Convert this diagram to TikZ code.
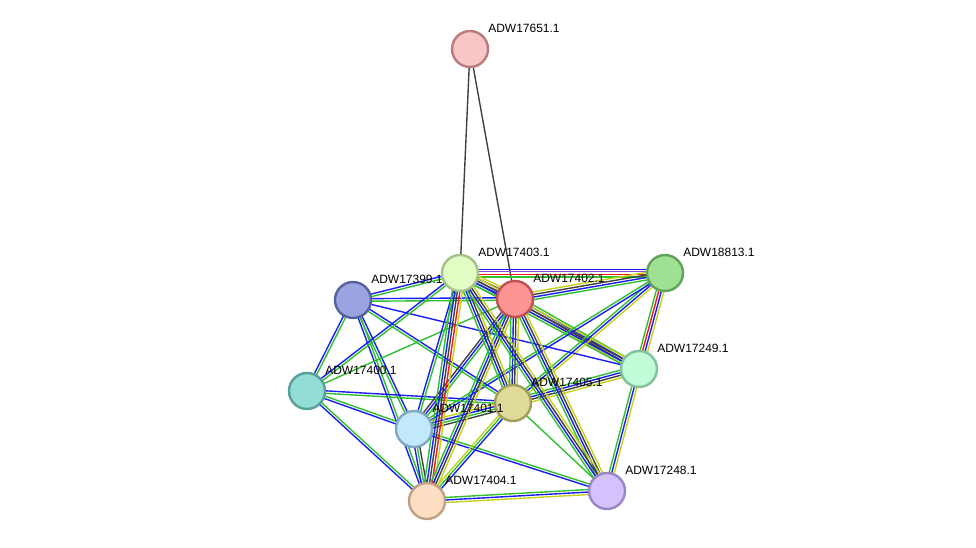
\documentclass[tikz,border=0pt]{standalone}
\usepackage{fontspec}
\setmainfont{Liberation Sans}
\usepackage{tikz}
\usetikzlibrary{calc,backgrounds}

\definecolor{sgreen}{HTML}{2EC02E}
\definecolor{sblue}{HTML}{1C1CF5}
\definecolor{sred}{HTML}{F01818}
\definecolor{sblack}{HTML}{404040}
\definecolor{syellow}{HTML}{C4D21C}
\definecolor{sviolet}{HTML}{8A4CD0}

\begin{document}
\begin{tikzpicture}[
    x=0.75pt, y=-0.75pt,
    prot/.style={draw, circle, minimum size=27pt, inner sep=0pt, line width=1.8pt},
    lbl/.style={anchor=west, inner sep=0pt, font=\fontsize{9}{10}\selectfont},
    link/.style={line width=1.05pt}
]
\useasboundingbox (0,0) rectangle (976,547);

% proteins
\node[prot, fill={rgb,255:red,248;green,198;blue,198}, draw={rgb,255:red,184;green,124;blue,124}] (p651) at (470,49) {};
\node[prot, fill={rgb,255:red,226;green,252;blue,196}, draw={rgb,255:red,164;green,194;blue,138}] (p403) at (460,273) {};
\node[prot, fill={rgb,255:red,252;green,148;blue,148}, draw={rgb,255:red,190;green,82;blue,82}] (p402) at (515,299) {};
\node[prot, fill={rgb,255:red,160;green,224;blue,146}, draw={rgb,255:red,98;green,162;blue,90}] (p813) at (665,273) {};
\node[prot, fill={rgb,255:red,154;green,164;blue,224}, draw={rgb,255:red,86;green,98;blue,160}] (p399) at (353,300) {};
\node[prot, fill={rgb,255:red,192;green,252;blue,216}, draw={rgb,255:red,128;green,194;blue,156}] (p249) at (639,369) {};
\node[prot, fill={rgb,255:red,146;green,222;blue,214}, draw={rgb,255:red,86;green,160;blue,152}] (p400) at (307,391) {};
\node[prot, fill={rgb,255:red,222;green,218;blue,152}, draw={rgb,255:red,160;green,158;blue,92}] (p405) at (513,403) {};
\node[prot, fill={rgb,255:red,194;green,232;blue,252}, draw={rgb,255:red,128;green,168;blue,192}] (p401) at (414,429) {};
\node[prot, fill={rgb,255:red,212;green,194;blue,252}, draw={rgb,255:red,154;green,134;blue,194}] (p248) at (607,491) {};
\node[prot, fill={rgb,255:red,253;green,222;blue,194}, draw={rgb,255:red,192;green,160;blue,132}] (p404) at (427,501) {};

% labels
\foreach \p/\t in {p651/ADW17651.1, p403/ADW17403.1, p402/ADW17402.1, p813/ADW18813.1,
    p399/ADW17399.1, p249/ADW17249.1, p400/ADW17400.1, p405/ADW17405.1,
    p401/ADW17401.1, p248/ADW17248.1, p404/ADW17404.1}
    \node[lbl] (l-\p) at ($(\p)+(18,-21)$) {\t};

% interactions, one line per evidence channel
\begin{scope}[on background layer]
\foreach \a/\b/\cols in {
    p651/p403/{sblack}, p651/p402/{sblack},
    p403/p813/{sgreen,sred,sviolet,sblue},
    p402/p813/{sgreen,sblue,sblack,syellow},
    p403/p402/{sgreen,sblue,sviolet,sblack,syellow},
    p399/p403/{sgreen,sblue}, p399/p402/{sgreen,sblue},
    p402/p249/{syellow,sblack,sblue,sgreen},
    p403/p249/{sgreen,sblue,sblack,syellow},
    p813/p249/{sgreen,sred,sblue,syellow},
    p813/p405/{sgreen,sblue,syellow}, p813/p401/{sgreen,sblue},
    p399/p400/{sblue,sgreen}, p399/p401/{sgreen,sblue},
    p399/p404/{sblue,sgreen}, p399/p405/{sgreen,sblue},
    p399/p249/{sblue},
    p400/p403/{sgreen,sblue}, p400/p402/{sgreen},
    p400/p405/{sgreen,sblue}, p400/p401/{sblue,sgreen},
    p400/p404/{sblue,sgreen},
    p401/p403/{sgreen,sblue}, p401/p402/{sgreen,sblue,sblack},
    p401/p405/{sblack,sgreen,sblue,syellow},
    p401/p248/{sblue,sgreen}, p401/p404/{sblue,sgreen,sblack},
    p403/p404/{sgreen,sblue,sblack,sred,syellow},
    p402/p404/{sgreen,sblue,sblack,syellow},
    p405/p404/{syellow,sgreen,sblue},
    p404/p248/{syellow,sblue,sgreen},
    p403/p405/{sgreen,sblue,sblack,syellow},
    p402/p405/{sgreen,sblue,sblack,syellow},
    p405/p249/{syellow,sblack,sblue,sgreen},
    p405/p248/{sgreen},
    p249/p248/{sgreen,sblue,syellow},
    p402/p248/{sgreen,sblue,sblack,syellow},
    p403/p248/{sgreen,sblue,sblack,syellow}} {
    \foreach \c [count=\n] in \cols {\xdef\nlines{\n}}
    \foreach \c [count=\i] in \cols {
        \pgfmathsetmacro\off{(\i-(\nlines+1)/2)*1.9}
        \draw[link, \c] ($(\a)!\off pt!90:(\b)$) -- ($(\b)!\off pt!-90:(\a)$);
    }
}
\end{scope}
\end{tikzpicture}
\end{document}
